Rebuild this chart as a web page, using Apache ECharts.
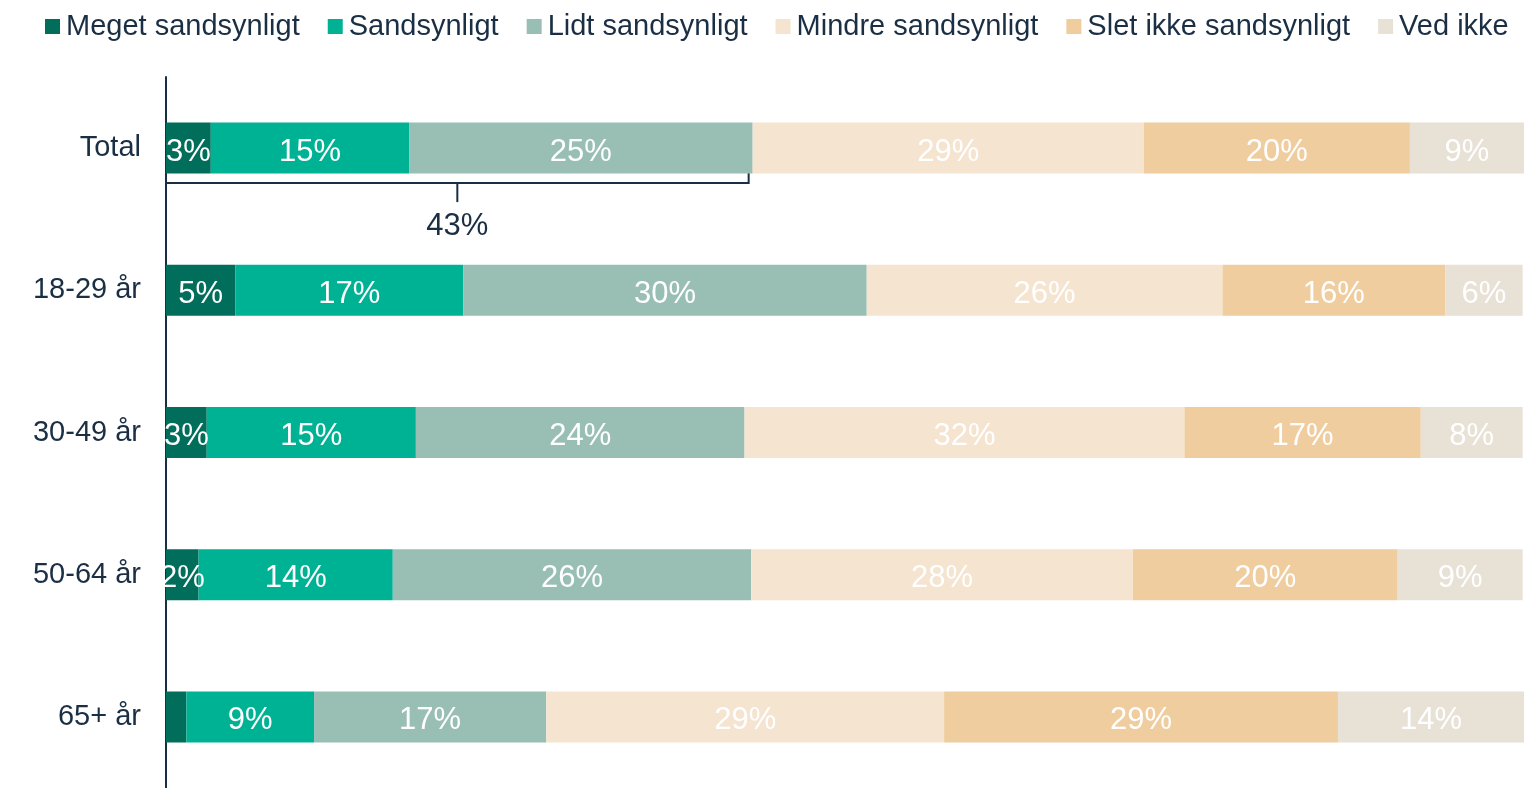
<!DOCTYPE html>
<html><head><meta charset="utf-8">
<script src="https://cdn.jsdelivr.net/npm/echarts@6/dist/echarts.min.js"></script>
<style>html,body{margin:0;padding:0;background:#fff}#c{width:1524px;height:788px}</style>
</head><body><div id="c"></div>
<script>
const categories = ['Total', '18-29 år', '30-49 år', '50-64 år', '65+ år'];
const seriesNames = ['Meget sandsynligt', 'Sandsynligt', 'Lidt sandsynligt', 'Mindre sandsynligt', 'Slet ikke sandsynligt', 'Ved ikke'];
const megetSandsynligt = [3.3, 5.1, 3.0, 2.4, 1.5];
const sandsynligt = [14.6, 16.8, 15.4, 14.3, 9.4];
const lidtSandsynligt = [25.3, 29.7, 24.2, 26.4, 17.1];
const mindreSandsynligt = [28.8, 26.2, 32.4, 28.1, 29.3];
const sletIkkeSandsynligt = [19.6, 16.4, 17.4, 19.5, 29.0];
const vedIkke = [8.5, 5.7, 7.5, 9.2, 13.7];
const colors = ['#006e5a', '#00b294', '#99bfb5', '#f5e4cf', '#efcd9f', '#e8e1d6'];
const allData = [megetSandsynligt, sandsynligt, lidtSandsynligt, mindreSandsynligt, sletIkkeSandsynligt, vedIkke];
const textColor = '#1a2e44';
const FONT = '"Liberation Sans", Arial, sans-serif';

const chart = echarts.init(document.getElementById('c'));
chart.setOption({
  animation: false,
  color: colors,
  legend: {
    top: 7, left: 40,
    itemWidth: 15, itemHeight: 15, itemGap: 28,
    icon: 'rect',
    textStyle: { fontSize: 29, color: textColor, fontFamily: FONT, padding: [0, 0, 0, 1] },
    data: seriesNames
  },
  grid: { left: 166, right: 0, top: 77, height: 717, containLabel: false },
  xAxis: { type: 'value', min: 0, max: 100, show: false },
  yAxis: {
    type: 'category', data: categories, inverse: true,
    axisLine: { show: true, lineStyle: { color: textColor, width: 2 } },
    axisTick: { show: false },
    axisLabel: { fontSize: 29, color: textColor, fontFamily: FONT, margin: 25, padding: [6, 0, 0, 0] }
  },
  series: seriesNames.map((name, i) => ({
    name, type: 'bar', stack: 'all', barWidth: 51,
    data: allData[i],
    itemStyle: { color: colors[i] },
    label: {
      show: true, position: 'inside', color: '#fff', fontSize: 31, fontFamily: FONT, offset: [0, 4],
      formatter: p => p.value < 2 ? '' : Math.round(p.value) + '%'
    }
  }))
});

const bracketSum = megetSandsynligt[0] + sandsynligt[0] + lidtSandsynligt[0];
const p0 = chart.convertToPixel({ gridIndex: 0 }, [0, categories[0]]);
const p1 = chart.convertToPixel({ gridIndex: 0 }, [bracketSum, categories[0]]);
const x0 = p0[0], x1 = p1[0] - 4;
const yLine = p0[1] + 35, yTop = p0[1] + 25;
const xm = (x0 + x1) / 2;
chart.setOption({
  graphic: [
    { type: 'polyline', shape: { points: [[x0, yTop - 8], [x0, yLine], [x1, yLine], [x1, yTop]] }, style: { stroke: textColor, lineWidth: 2, fill: null } },
    { type: 'line', shape: { x1: xm, y1: yLine, x2: xm, y2: yLine + 19 }, style: { stroke: textColor, lineWidth: 2 } },
    { type: 'text', x: xm, y: yLine + 43, style: { text: Math.round(bracketSum) + '%', fill: textColor, fontSize: 31, fontFamily: FONT, align: 'center', verticalAlign: 'middle' } }
  ]
});
</script></body></html>
